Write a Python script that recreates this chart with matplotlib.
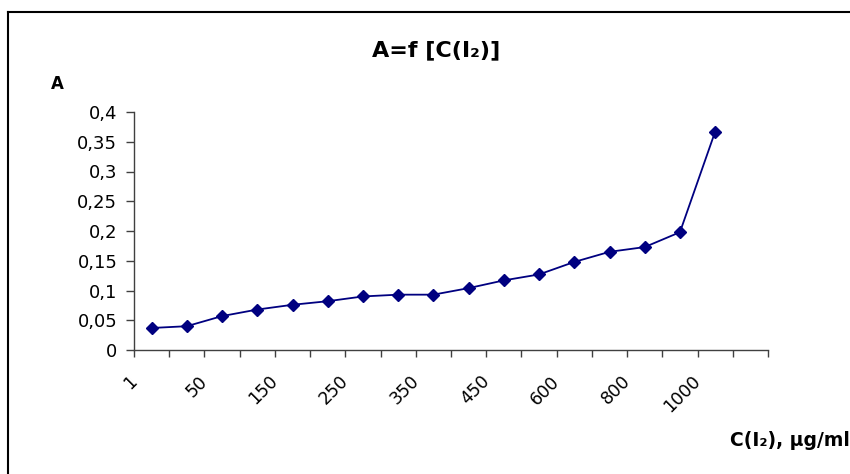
import matplotlib.pyplot as plt
import matplotlib.transforms as mtransforms
from matplotlib.lines import Line2D

# concentrations of I2, ug/ml (only every other one is labelled on the chart)
concentrations = [1, 25, 50, 100, 150, 200, 250, 300, 350, 400,
                  450, 500, 600, 700, 800, 900, 1000]
absorbance = [0.037, 0.040, 0.057, 0.068, 0.076, 0.082, 0.090, 0.093, 0.093,
              0.104, 0.117, 0.127, 0.148, 0.165, 0.173, 0.198, 0.367]
y_ticks = [0, 0.05, 0.1, 0.15, 0.2, 0.25, 0.3, 0.35, 0.4]

W, H = 850, 474
plt.rcParams["font.family"] = ["DejaVu Sans"]

fig = plt.figure(figsize=(W / 100, H / 100), dpi=100)
ax = fig.add_axes([134 / W, (H - 350) / H, (768 - 134) / W, (350 - 112) / H])

positions = list(range(len(concentrations)))
ax.plot(positions, absorbance, color="#000080", linewidth=1.3,
        marker="D", markersize=6.5, markerfacecolor="#000080",
        markeredgecolor="#000080")

# one empty category at the end, like the original sheet
ax.set_xlim(-0.5, len(concentrations) + 0.5)
ax.set_ylim(0, 0.4)

# y axis
ax.set_yticks(y_ticks)
ax.set_yticklabels([("%g" % v).replace(".", ",") for v in y_ticks])
ax.tick_params(axis="y", direction="out", length=6, width=1,
               color="#404040", pad=6, labelsize=13)

# x axis: boundary ticks as minor, labels on every other category
ax.set_xticks([p - 0.5 for p in range(len(concentrations) + 2)], minor=True)
label_pos = positions[::2]
ax.set_xticks(label_pos)
ax.set_xticklabels([str(concentrations[p]) for p in label_pos],
                   rotation=45, ha="right", va="top")
ax.tick_params(axis="x", which="major", length=0, pad=16, labelsize=12.5)
ax.tick_params(axis="x", which="minor", direction="out", length=5,
               width=1, color="#404040")
shift = mtransforms.ScaledTranslation(-11 / 100, 0, fig.dpi_scale_trans)
for lbl in ax.get_xticklabels():
    lbl.set_transform(lbl.get_transform() + shift)

for side in ["top", "right"]:
    ax.spines[side].set_visible(False)
for side in ["left", "bottom"]:
    ax.spines[side].set_color("#404040")
    ax.spines[side].set_linewidth(1)

# texts
fig.text(436 / W, 1 - 50 / H, "A=f [C(I\u2082)]", ha="center", va="center",
         fontsize=16, fontweight="bold")
fig.text(57 / W, 1 - 84 / H, "A", ha="center", va="center",
         fontsize=12, fontweight="bold")
fig.text(730 / W, 1 - 441 / H, "C(I\u2082), \u00b5g/ml", ha="left",
         va="center", fontsize=13.5, fontweight="bold")

# chart area border (cut off at the right and bottom)
fig.add_artist(Line2D([8 / W, 8 / W], [0, 1 - 12 / H],
                      transform=fig.transFigure, color="black", linewidth=1.5))
fig.add_artist(Line2D([8 / W, 1], [1 - 12 / H, 1 - 12 / H],
                      transform=fig.transFigure, color="black", linewidth=1.5))

fig.savefig("out.png", dpi=100)
